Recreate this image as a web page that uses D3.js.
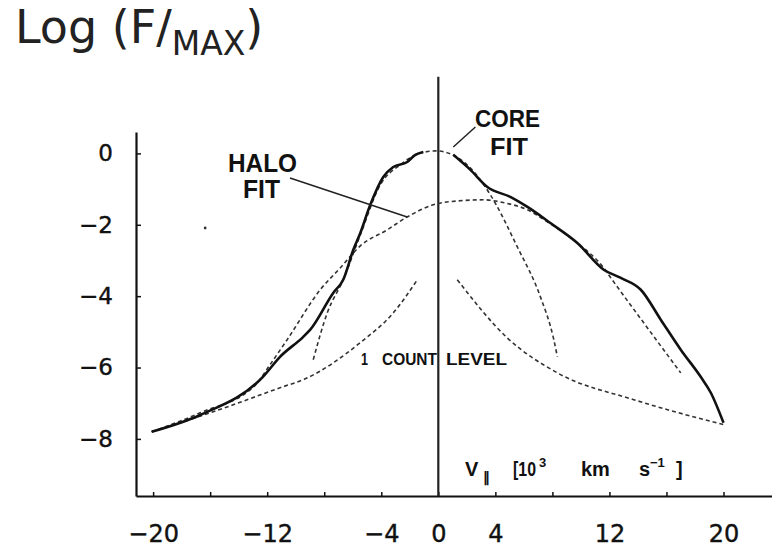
<!DOCTYPE html>
<html>
<head>
<meta charset="utf-8">
<script src="https://cdn.jsdelivr.net/npm/d3@7"></script>
<style>
  body { margin: 0; background: #fff; }
  svg { display: block; }
</style>
</head>
<body>
<svg id="chart" width="772" height="550"></svg>
<script>

// Observed line profile, in two parts (the top is only the dashed core fit)
const profileLeftV  = [-20.1, -16.7, -12.3, -11.1, -9.47, -8.98, -7.37, -6.67, -5.96, -5.47, -4.77, -3.86, -3.16, -2.18, -1.61, -1.05];
const profileLeftL  = [-7.8, -7.33, -6.26, -5.7, -5.14, -4.94, -3.91, -3.54, -2.7, -2.23, -1.44, -0.66, -0.38, -0.24, -0.04, 0.04];
const profileRightV = [1.05, 2.25, 3.44, 5.05, 6.25, 7.86, 9.75, 11.6, 12.8, 14.2, 15.6, 17.0, 18.4, 19.1, 20.0];
const profileRightL = [-0.04, -0.46, -0.94, -1.22, -1.5, -1.95, -2.51, -3.26, -3.49, -3.82, -4.66, -5.5, -6.26, -6.7, -7.55];

// Core fit (narrow component)
const coreV = [-8.77, -7.79, -6.67, -5.47, -4.07, -2.67, -1.26, -0.14, 0.84, 2.25, 3.65, 5.54, 7.16, 8.07, 8.35];
const coreL = [-5.78, -4.47, -3.54, -2.28, -0.88, -0.32, 0.01, 0.07, -0.01, -0.41, -1.16, -2.62, -4.02, -5.17, -5.7];

// Halo fit (broad component)
const haloV = [-20.1, -16.7, -12.8, -11.8, -10.6, -8.28, -6.88, -5.47, -3.58, -2.18, -0.35, 1.4, 3.16, 4.7, 6.25, 7.65, 9.75, 11.6, 12.1, 14.5, 17.0];
const haloL = [-7.8, -7.27, -6.48, -5.92, -5.22, -3.82, -3.21, -2.59, -2.14, -1.78, -1.44, -1.33, -1.3, -1.39, -1.58, -1.92, -2.51, -3.21, -3.49, -4.8, -6.15];

// One count level, both wings
const countLeftV  = [-20.1, -16.0, -10.9, -9.47, -5.47, -3.16, -1.47];
const countLeftL  = [-7.8, -7.27, -6.54, -6.34, -5.3, -4.47, -3.54];
const countRightV = [1.33, 4.84, 8.35, 13.7, 20.0];
const countRightL = [-3.54, -5.17, -6.15, -6.9, -7.6];

// Axis ticks
const xTicks      = [-20, -16, -12, -8, -4, 0, 4, 8, 12, 16, 20];
const xTickLabels = [-20, -12, -4, 0, 4, 12, 20];
const yTicks      = [0, -2, -4, -6, -8];

const svg = d3.select("#chart");
const font = "'DejaVu Sans', 'Liberation Sans', sans-serif";
const bold = "'Liberation Sans', Arial, sans-serif";

const x = d3.scaleLinear().domain([-21.2, 23.4]).range([136, 772]);
const y = d3.scaleLinear().domain([-9.6, 0.6]).range([496, 132]);

const zip = (vs, ls) => vs.map((v, i) => [v, ls[i]]);
const line = d3.line()
    .x(d => x(d[0]))
    .y(d => y(d[1]))
    .curve(d3.curveMonotoneX);

// Axes
const yAxis = svg.append("g")
    .attr("transform", `translate(${x(-21.2)},0)`)
    .call(d3.axisLeft(y).tickValues(yTicks).tickSizeInner(-5).tickSizeOuter(0).tickPadding(23));
yAxis.select(".domain").attr("stroke", "#111").attr("stroke-width", 2.2);
yAxis.selectAll(".tick line").attr("stroke", "#111").attr("stroke-width", 1.5);
yAxis.selectAll(".tick text")
    .attr("font-family", font).attr("font-size", 23).attr("fill", "#111")
    .attr("stroke", "#111").attr("stroke-width", 0.4);

const xAxis = svg.append("g")
    .attr("transform", `translate(0,${y(-9.6)})`)
    .call(d3.axisBottom(x).tickValues(xTicks).tickSizeInner(-4).tickSizeOuter(0).tickFormat(""));
xAxis.select(".domain").attr("stroke", "#111").attr("stroke-width", 2.2);
xAxis.selectAll(".tick line").attr("stroke", "#111").attr("stroke-width", 1.5);

const xLabels = svg.append("g")
    .attr("transform", `translate(0,${y(-9.6)})`)
    .call(d3.axisBottom(x).tickValues(xTickLabels).tickSize(0).tickPadding(29));
xLabels.select(".domain").remove();
xLabels.selectAll(".tick text")
    .attr("font-family", font).attr("font-size", 24).attr("fill", "#111")
    .attr("stroke", "#111").attr("stroke-width", 0.4);

// Vertical line at zero velocity
svg.append("line")
    .attr("x1", x(0)).attr("x2", x(0))
    .attr("y1", y(2.15)).attr("y2", y(-9.6))
    .attr("stroke", "#222").attr("stroke-width", 2.2);

// Dashed fits
const dashed = [zip(coreV, coreL), zip(haloV, haloL), zip(countLeftV, countLeftL), zip(countRightV, countRightL)];
svg.selectAll("path.fit")
    .data(dashed)
  .enter().append("path")
    .attr("class", "fit")
    .attr("d", line)
    .attr("fill", "none")
    .attr("stroke", "#333")
    .attr("stroke-width", 1.6)
    .attr("stroke-dasharray", "4,3");

// Observed profile
svg.selectAll("path.obs")
    .data([zip(profileLeftV, profileLeftL), zip(profileRightV, profileRightL)])
  .enter().append("path")
    .attr("class", "obs")
    .attr("d", line)
    .attr("fill", "none")
    .attr("stroke", "#111")
    .attr("stroke-width", 2.6)
    .attr("stroke-linejoin", "round");

// Pointer lines for the labels
svg.append("line")
    .attr("x1", x(-10.4)).attr("y1", y(-0.69))
    .attr("x2", x(-2.18)).attr("y2", y(-1.78))
    .attr("stroke", "#222").attr("stroke-width", 1.5);
svg.append("line")
    .attr("x1", x(1.05)).attr("y1", y(0.18))
    .attr("x2", x(2.6)).attr("y2", y(0.74))
    .attr("stroke", "#222").attr("stroke-width", 1.5);

// stray speck on the scan
svg.append("circle").attr("cx", x(-16.35)).attr("cy", y(-2.09)).attr("r", 1.4).attr("fill", "#333");

// Labels
const label = (txt, px, py, size, len) => svg.append("text")
    .attr("x", px).attr("y", py)
    .attr("font-family", bold).attr("font-weight", "bold")
    .attr("font-size", size).attr("fill", "#111")
    .attr("textLength", len).attr("lengthAdjust", "spacingAndGlyphs")
    .text(txt);

label("HALO", 228, 172, 25, 69);
label("FIT", 243, 198, 25, 37);
label("CORE", 475, 127, 23, 65);
label("FIT", 490, 155, 23, 38);
label("1", 361, 365, 17, 7);
label("COUNT", 382, 365, 17, 55);
label("LEVEL", 446, 365, 17, 61);

// Title
const title = svg.append("text")
    .attr("x", 15).attr("y", 43)
    .attr("font-family", font).attr("font-size", 46).attr("fill", "#222");
title.append("tspan").text("Log (F/");
title.append("tspan").attr("font-size", 33).attr("dy", 12).text("MAX");
title.append("tspan").attr("dy", -12).text(")");

// Velocity axis title
const vt = svg.append("text")
    .attr("y", 476)
    .attr("font-family", bold).attr("font-weight", "bold")
    .attr("font-size", 20).attr("fill", "#111");
vt.append("tspan").attr("x", 465).text("V");
vt.append("tspan").attr("x", 483).attr("dy", 6).attr("font-size", 14).text("\u2225");
vt.append("tspan").attr("x", 513).attr("dy", -6).attr("textLength", 23).attr("lengthAdjust", "spacingAndGlyphs").text("[10");
vt.append("tspan").attr("x", 539).attr("dy", -9).attr("font-size", 13).text("3");
vt.append("tspan").attr("x", 581).attr("dy", 9).text("km");
vt.append("tspan").attr("x", 639).text("s");
vt.append("tspan").attr("x", 650).attr("dy", -9).attr("font-size", 13).text("\u22121");
vt.append("tspan").attr("x", 676).attr("dy", 9).text("]");

</script>
</body>
</html>
